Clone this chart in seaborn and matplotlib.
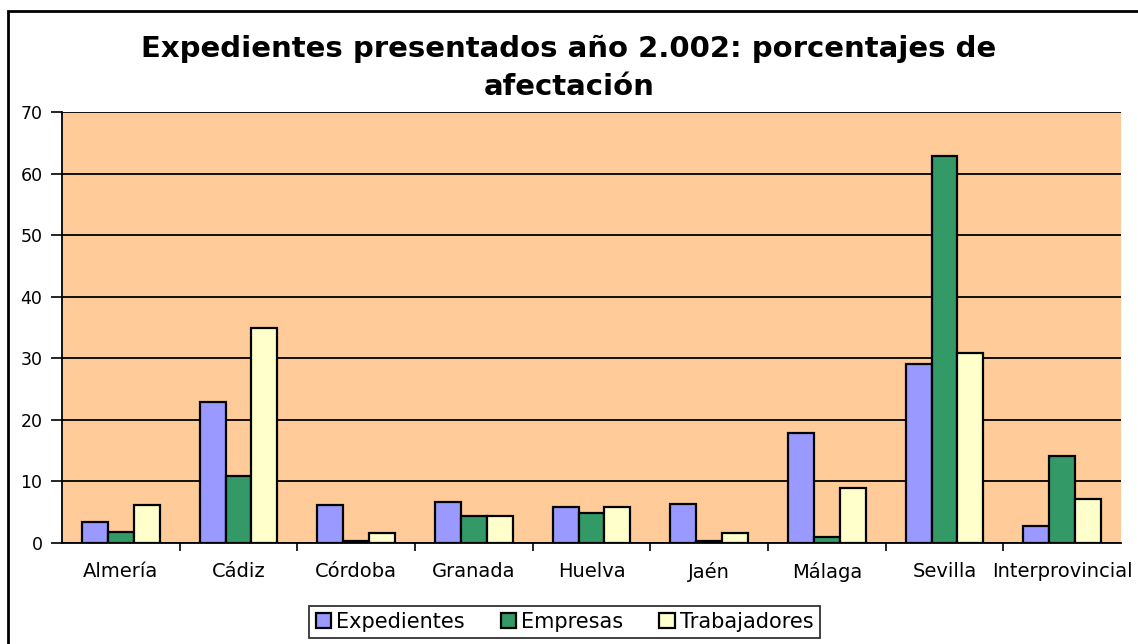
import pandas as pd
import numpy as np
import matplotlib.pyplot as plt
import seaborn as sns
from matplotlib.patches import Rectangle

provincias = ['Almería', 'Cádiz', 'Córdoba', 'Granada', 'Huelva',
              'Jaén', 'Málaga', 'Sevilla', 'Interprovincial']
expedientes = [3.4, 22.9, 6.1, 6.7, 5.8, 6.4, 17.8, 29.1, 2.8]
empresas = [1.8, 10.9, 0.3, 4.4, 4.8, 0.3, 0.9, 62.9, 14.2]
trabajadores = [6.1, 35.0, 1.6, 4.4, 5.8, 1.6, 9.0, 30.8, 7.1]

series = ['Expedientes', 'Empresas', 'Trabajadores']
colores = ['#9999FF', '#339966', '#FFFFCC']

df = pd.DataFrame({'provincia': provincias,
                   'Expedientes': expedientes,
                   'Empresas': empresas,
                   'Trabajadores': trabajadores})
long_df = df.melt(id_vars='provincia', var_name='serie', value_name='valor')

sns.set_style('white')
plt.rcParams['font.family'] = ['DejaVu Sans']
plt.rcParams['text.color'] = 'black'

fig = plt.figure(figsize=(11.38, 6.44), dpi=100)
ax = fig.add_axes([62 / 1138, 101 / 644, (1121 - 62) / 1138, (543 - 112) / 644])

sns.barplot(data=long_df, x='provincia', y='valor', hue='serie',
            hue_order=series, palette=colores, saturation=1, width=0.66,
            edgecolor='black', linewidth=1.6, ax=ax, legend=True)

ax.set_facecolor('#FFCC99')
ax.set_ylim(0, 70)
ax.set_xlim(-0.5, len(provincias) - 0.5)
ax.set_yticks(range(0, 71, 10))
ax.yaxis.grid(True, color='black', linewidth=1.3)
ax.set_axisbelow(True)
ax.set_xlabel('')
ax.set_ylabel('')

for side in ['top', 'right']:
    ax.spines[side].set_visible(False)
for side in ['left', 'bottom']:
    ax.spines[side].set_color('black')
    ax.spines[side].set_linewidth(1.3)

ax.tick_params(axis='y', which='major', direction='out', length=8,
               width=1.2, color='black', labelsize=12.5, left=True, pad=6)
ax.tick_params(axis='x', which='major', length=0, labelsize=14, pad=14)
ax.set_xticks(np.arange(0.5, len(provincias) - 0.5, 1), minor=True)
ax.tick_params(axis='x', which='minor', direction='out', length=6,
               width=1.2, color='black', bottom=True)
for lab in ax.get_xticklabels() + ax.get_yticklabels():
    lab.set_color('black')

fig.text(0.5, 0.894, 'Expedientes presentados año 2.002: porcentajes de\nafectación',
         ha='center', va='center', fontsize=21, fontweight='bold',
         color='black', linespacing=1.45)

handles, labels = ax.get_legend_handles_labels()
ax.legend(handles, labels, loc='center', bbox_to_anchor=(0.4745, -0.183),
          ncol=3, frameon=True, fancybox=False, edgecolor='black',
          fontsize=15, handlelength=0.75, handleheight=0.75,
          handletextpad=0.25, columnspacing=1.7, borderpad=0.3)
ax.get_legend().get_frame().set_linewidth(1.3)

fig.patches.append(Rectangle((8 / 1138, -0.01), 1.0, (644 - 11) / 644 + 0.01,
                             transform=fig.transFigure, fill=False,
                             edgecolor='black', linewidth=2))

fig.savefig('out.png', dpi=100)
